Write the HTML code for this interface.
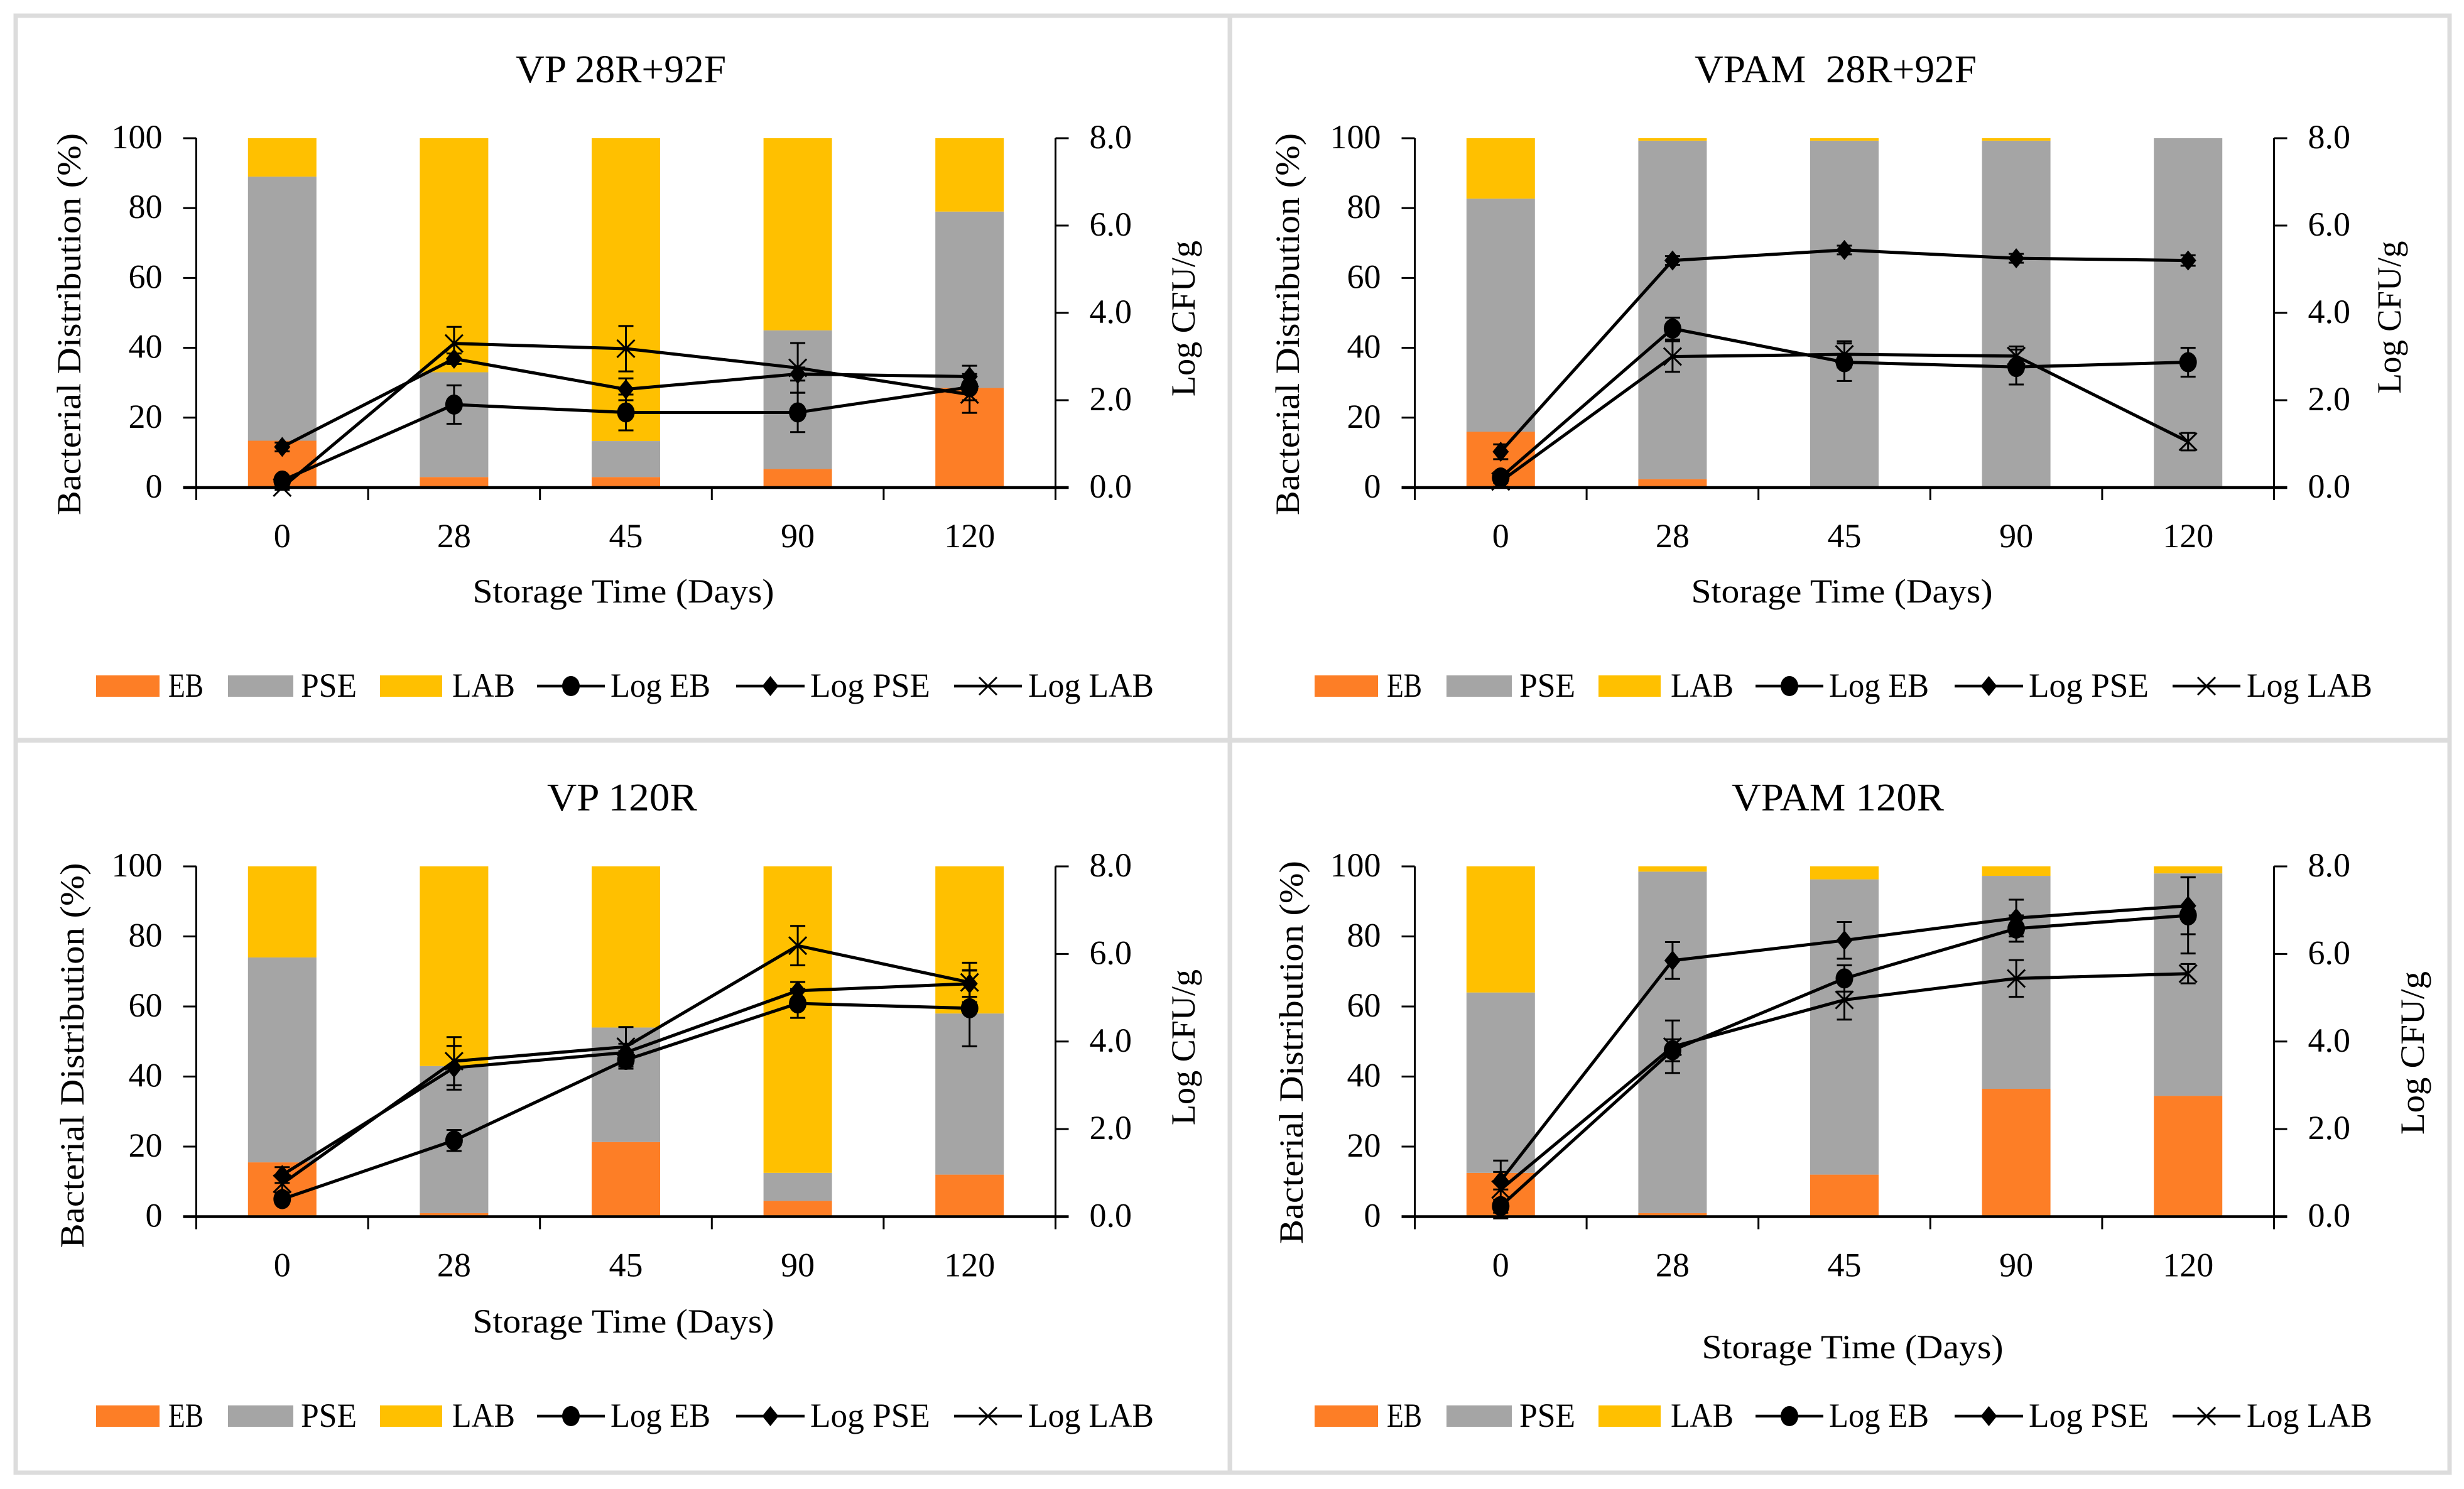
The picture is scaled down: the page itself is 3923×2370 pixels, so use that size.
<!DOCTYPE html>
<html lang="en">
<head>
<meta charset="utf-8">
<title>Bacterial distribution and Log CFU/g during storage</title>
<style>
html,body{margin:0;padding:0;background:#fff;width:3923px;height:2370px;overflow:hidden}
svg{display:block;font-family:"Liberation Serif",serif}
text{fill:#000}
</style>
</head>
<body>
<svg id="figure" xmlns="http://www.w3.org/2000/svg" width="3923" height="2370" viewBox="0 0 3923 2370"></svg>
<script>
const categories = ['0', '28', '45', '90', '120'];
const leftTickLabels = ['0', '20', '40', '60', '80', '100'];
const rightTickLabels = ['0.0', '2.0', '4.0', '6.0', '8.0'];

const vp28Eb = [13.4, 3, 3, 5.3, 28.5];
const vp28Pse = [75.6, 30, 10.3, 39.7, 50.5];
const vp28Lab = [11, 67, 86.7, 55, 21];
const vp28LogEb = [0.16, 1.9, 1.72, 1.72, 2.3];
const vp28LogPse = [0.93, 2.95, 2.25, 2.6, 2.54];
const vp28LogLab = [0.0, 3.3, 3.18, 2.74, 2.13];
const vp28ErrEb = [0.05, 0.44, 0.41, 0.45, 0.3];
const vp28ErrPse = [0.1, 0.12, 0.25, 0.15, 0.25];
const vp28ErrLab = [0.05, 0.38, 0.52, 0.57, 0.42];

const vpam28Eb = [16, 2.4, 0, 0, 0];
const vpam28Pse = [66.7, 96.9, 99.3, 99.3, 100];
const vpam28Lab = [17.3, 0.7, 0.7, 0.7, 0];
const vpam28LogEb = [0.23, 3.64, 2.87, 2.76, 2.87];
const vpam28LogPse = [0.82, 5.2, 5.44, 5.25, 5.2];
const vpam28LogLab = [0.14, 3.0, 3.05, 3.01, 1.05];
const vpam28ErrEb = [0.12, 0.25, 0.43, 0.4, 0.33];
const vpam28ErrPse = [0.17, 0.1, 0.1, 0.1, 0.12];
const vpam28ErrLab = [0.12, 0.35, 0.3, 0.22, 0.2];

const vp120Eb = [15.5, 1, 21.3, 4.5, 12];
const vp120Pse = [58.5, 42, 32.7, 8, 46];
const vp120Lab = [26, 57, 46, 87.5, 42];
const vp120LogEb = [0.4, 1.74, 3.58, 4.87, 4.76];
const vp120LogPse = [0.95, 3.4, 3.75, 5.16, 5.32];
const vp120LogLab = [0.75, 3.55, 3.88, 6.19, 5.35];
const vp120ErrEb = [0.1, 0.24, 0.2, 0.33, 0.87];
const vp120ErrPse = [0.18, 0.5, 0.2, 0.2, 0.3];
const vp120ErrLab = [0.2, 0.55, 0.45, 0.45, 0.45];

const vpam120Eb = [12.5, 1, 12, 36.5, 34.5];
const vpam120Pse = [51.5, 97.5, 84.3, 60.8, 63.5];
const vpam120Lab = [36, 1.5, 3.7, 2.7, 2];
const vpam120LogEb = [0.24, 3.8, 5.44, 6.58, 6.88];
const vpam120LogPse = [0.82, 5.85, 6.31, 6.82, 7.1];
const vpam120LogLab = [0.62, 3.88, 4.95, 5.44, 5.55];
const vpam120ErrEb = [0.15, 0.25, 0.3, 0.3, 0.87];
const vpam120ErrPse = [0.2, 0.42, 0.42, 0.42, 0.65];
const vpam120ErrLab = [0.66, 0.6, 0.45, 0.42, 0.22];

const NS = 'http://www.w3.org/2000/svg';
const root = document.getElementById('figure');
const ORANGE = '#fd7e26', GRAY = '#a5a5a5', YELLOW = '#ffc000', BORDER = '#dcdcdc';

function make(parent, tag, attrs, name) {
  const el = document.createElementNS(NS, tag);
  for (const k in attrs) el.setAttribute(k, attrs[k]);
  
  
  parent.appendChild(el);
  return el;
}
function label(parent, str, x, y, size, anchor, width, name, rot) {
  const a = {x: x, y: y, 'font-size': size, 'text-anchor': anchor};
  if (width) { a.textLength = width; a.lengthAdjust = 'spacingAndGlyphs'; }
  if (rot) a.transform = 'rotate(' + rot + ' ' + x + ' ' + y + ')';
  const t = make(parent, 'text', a, name);
  t.textContent = str;
  return t;
}

make(root, 'rect', {x: 0, y: 0, width: 3923, height: 2370, fill: '#fff'}, 'page-background');
[[25, 25, 1933, 1153], [1958.5, 25, 1941.5, 1153], [25, 1178.5, 1933, 1165.5], [1958.5, 1178.5, 1941.5, 1165.5]].forEach(function (r) {
  make(root, 'rect', {x: r[0], y: r[1], width: r[2], height: r[3], fill: 'none', stroke: BORDER, 'stroke-width': 7}, 'panel-frame');
});

function marker(parent, kind, x, y, nm) {
  if (kind === 'circle') {
    make(parent, 'ellipse', {cx: x, cy: y, rx: 14, ry: 16, fill: '#000'}, nm);
  } else if (kind === 'diamond') {
    const s = 16;
    make(parent, 'polygon', {points: x + ',' + (y - s) + ' ' + (x + 13) + ',' + y + ' ' + x + ',' + (y + s) + ' ' + (x - 13) + ',' + y, fill: '#000'}, nm);
  } else {
    const s = 14;
    make(parent, 'path', {d: 'M' + (x - s) + ' ' + (y - s) + 'L' + (x + s) + ' ' + (y + s) + 'M' + (x - s) + ' ' + (y + s) + 'L' + (x + s) + ' ' + (y - s), stroke: '#000', 'stroke-width': 3, fill: 'none'}, nm);
  }
}

function renderPanel(p) {
  const g = make(root, 'g', {}, p.id + '-chart');
  const L = p.left, R = p.left + 1368, T = p.top, B = p.base;
  const band = (R - L) / categories.length;
  const xAt = function (i) { return L + band * (i + 0.5); };
  const yPct = function (v) { return B - (v / 100) * (B - T); };
  const yLog = function (v) { return B - (v / 8) * (B - T); };
  const barW = 109;

  categories.forEach(function (c, i) {
    let acc = 0;
    [[p.eb, ORANGE, 'eb'], [p.pse, GRAY, 'pse'], [p.lab, YELLOW, 'lab']].forEach(function (s) {
      const v = s[0][i];
      if (v > 0) {
        make(g, 'rect', {x: xAt(i) - barW / 2, y: yPct(acc + v), width: barW, height: yPct(acc) - yPct(acc + v), fill: s[1]}, 'bar-' + s[2] + '-day-' + c);
      }
      acc += v;
    });
  });

  make(g, 'line', {x1: L, y1: T, x2: L, y2: B + 20, stroke: '#000', 'stroke-width': 3}, 'left-axis');
  make(g, 'line', {x1: R, y1: T, x2: R, y2: B + 20, stroke: '#000', 'stroke-width': 3}, 'right-axis');
  make(g, 'line', {x1: L - 21, y1: B, x2: R + 21, y2: B, stroke: '#000', 'stroke-width': 4.5}, 'x-axis');
  leftTickLabels.forEach(function (t) {
    const y = yPct(Number(t));
    make(g, 'line', {x1: L - 21, y1: y, x2: L, y2: y, stroke: '#000', 'stroke-width': 3}, 'left-tick-' + t);
    label(g, t, L - 54, y + 16, 54, 'end', 0, 'left-tick-label-' + t);
  });
  rightTickLabels.forEach(function (t) {
    const y = yLog(Number(t));
    make(g, 'line', {x1: R, y1: y, x2: R + 21, y2: y, stroke: '#000', 'stroke-width': 3}, 'right-tick-' + t);
    label(g, t, R + 54, y + 16, 54, 'start', 0, 'right-tick-label-' + t);
  });
  for (let i = 0; i <= categories.length; i++) {
    const x = L + band * i;
    make(g, 'line', {x1: x, y1: B, x2: x, y2: B + 20, stroke: '#000', 'stroke-width': 3}, 'x-tick');
  }
  categories.forEach(function (c, i) {
    label(g, c, xAt(i), B + 95, 54, 'middle', 0, 'x-tick-label-' + c);
  });

  const lineSets = [
    [p.logEb, p.errEb, 'circle', 'log-eb'],
    [p.logPse, p.errPse, 'diamond', 'log-pse'],
    [p.logLab, p.errLab, 'cross', 'log-lab']
  ];
  lineSets.forEach(function (s) {
    s[0].forEach(function (v, i) {
      const x = xAt(i), y1 = yLog(v + s[1][i]), y2 = yLog(v - s[1][i]);
      make(g, 'line', {x1: x, y1: y1, x2: x, y2: y2, stroke: '#000', 'stroke-width': 3}, s[3] + '-error-bar');
      make(g, 'line', {x1: x - 12, y1: y1, x2: x + 12, y2: y1, stroke: '#000', 'stroke-width': 3}, s[3] + '-error-cap');
      make(g, 'line', {x1: x - 12, y1: y2, x2: x + 12, y2: y2, stroke: '#000', 'stroke-width': 3}, s[3] + '-error-cap');
    });
  });
  lineSets.forEach(function (s) {
    const pts = s[0].map(function (v, i) { return xAt(i) + ',' + yLog(v); }).join(' ');
    make(g, 'polyline', {points: pts, fill: 'none', stroke: '#000', 'stroke-width': 5, 'stroke-linejoin': 'round'}, s[3] + '-line');
    s[0].forEach(function (v, i) {
      marker(g, s[2], xAt(i), yLog(v), s[3] + '-marker');
    });
  });

  label(g, p.title, p.titleX, p.titleY, 62, 'start', p.titleW, 'chart-title');
  label(g, 'Storage Time (Days)', L + p.xTitleDx, p.xTitleY, 54, 'start', 480, 'x-axis-title');
  label(g, 'Bacterial Distribution (%)', p.yTitleX, p.yTitleMid, 54, 'middle', p.yTitleLen, 'y-axis-title', -90);
  label(g, 'Log CFU/g', p.rTitleX, p.rTitleMid, 54, 'middle', p.rTitleLen, 'secondary-y-axis-title', -90);

  const lg = make(g, 'g', {}, 'legend');
  const cy = p.legendY, dx = L - 312.5;
  [['EB', ORANGE, 153, 101, 268, 56], ['PSE', GRAY, 363, 104, 479, 89], ['LAB', YELLOW, 605, 99, 720, 100]].forEach(function (e) {
    make(lg, 'rect', {x: e[2] + dx, y: cy - 17, width: e[3], height: 34, fill: e[1]}, 'legend-swatch-' + e[0].toLowerCase());
    label(lg, e[0], e[4] + dx, cy + 17, 54, 'start', e[5], 'legend-label-' + e[0].toLowerCase());
  });
  [['Log EB', 'circle', 855, 108, 972, 159], ['Log PSE', 'diamond', 1172, 109, 1290, 191], ['Log LAB', 'cross', 1519, 108, 1637, 200]].forEach(function (e) {
    make(lg, 'line', {x1: e[2] + dx, y1: cy, x2: e[2] + e[3] + dx, y2: cy, stroke: '#000', 'stroke-width': 4.5}, 'legend-line');
    marker(lg, e[1], e[2] + e[3] / 2 + dx, cy, 'legend-marker');
    label(lg, e[0], e[4] + dx, cy + 17, 54, 'start', e[5], 'legend-label-' + e[0].toLowerCase().replace(' ', '-'));
  });
}

renderPanel({id: 'vp-28r-92f', title: 'VP 28R+92F', titleX: 821, titleY: 131, titleW: 335, left: 312.5, top: 220, base: 776, xTitleDx: 440, xTitleY: 959, yTitleX: 128, yTitleMid: 516, yTitleLen: 608, rTitleX: 1902, rTitleMid: 507, rTitleLen: 248, legendY: 1092,
  eb: vp28Eb, pse: vp28Pse, lab: vp28Lab, logEb: vp28LogEb, logPse: vp28LogPse, logLab: vp28LogLab, errEb: vp28ErrEb, errPse: vp28ErrPse, errLab: vp28ErrLab});
renderPanel({id: 'vpam-28r-92f', title: 'VPAM\u00A0\u00A028R+92F', titleX: 2698, titleY: 131, titleW: 449, left: 2252.5, top: 220, base: 776, xTitleDx: 440, xTitleY: 959, yTitleX: 2068, yTitleMid: 516, yTitleLen: 608, rTitleX: 3822, rTitleMid: 505, rTitleLen: 243, legendY: 1092,
  eb: vpam28Eb, pse: vpam28Pse, lab: vpam28Lab, logEb: vpam28LogEb, logPse: vpam28LogPse, logLab: vpam28LogLab, errEb: vpam28ErrEb, errPse: vpam28ErrPse, errLab: vpam28ErrLab});
renderPanel({id: 'vp-120r', title: 'VP 120R', titleX: 871, titleY: 1290, titleW: 239, left: 312.5, top: 1379, base: 1936.5, xTitleDx: 440, xTitleY: 2121, yTitleX: 133, yTitleMid: 1680, yTitleLen: 613, rTitleX: 1902, rTitleMid: 1667, rTitleLen: 248, legendY: 2254,
  eb: vp120Eb, pse: vp120Pse, lab: vp120Lab, logEb: vp120LogEb, logPse: vp120LogPse, logLab: vp120LogLab, errEb: vp120ErrEb, errPse: vp120ErrPse, errLab: vp120ErrLab});
renderPanel({id: 'vpam-120r', title: 'VPAM 120R', titleX: 2757, titleY: 1290, titleW: 338, left: 2252.5, top: 1379, base: 1936.5, xTitleDx: 457, xTitleY: 2162, yTitleX: 2074, yTitleMid: 1675, yTitleLen: 610, rTitleX: 3859, rTitleMid: 1676, rTitleLen: 260, legendY: 2254,
  eb: vpam120Eb, pse: vpam120Pse, lab: vpam120Lab, logEb: vpam120LogEb, logPse: vpam120LogPse, logLab: vpam120LogLab, errEb: vpam120ErrEb, errPse: vpam120ErrPse, errLab: vpam120ErrLab});
</script>
</body>
</html>
